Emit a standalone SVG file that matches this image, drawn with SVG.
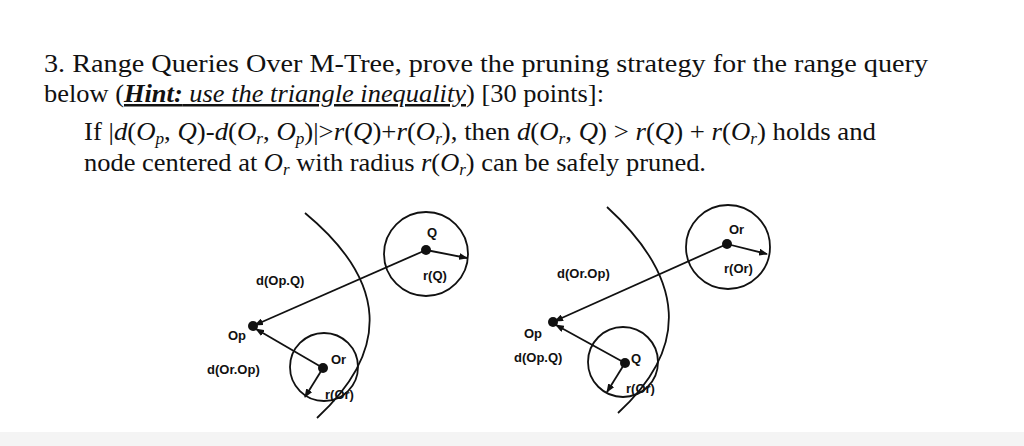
<svg xmlns="http://www.w3.org/2000/svg" width="1024" height="446" viewBox="0 0 1024 446">
<style>
.t{font-family:"Liberation Serif",serif;font-size:25px;fill:#111}
.i{font-style:italic}
.l{font-family:"Liberation Sans",sans-serif;font-size:13px;font-weight:bold;fill:#111}
.c{fill:none;stroke:#111;stroke-width:1.8}
.a{stroke:#111;stroke-width:1.8;fill:none;marker-end:url(#ah)}
.sub{font-size:16px}
</style>
<defs><marker id="ah" markerWidth="9" markerHeight="7" refX="8" refY="3.5" orient="auto" markerUnits="userSpaceOnUse"><path d="M0,0L9,3.5L0,7z" fill="#111"/></marker></defs>
<rect width="1024" height="446" fill="#fff"/>
<rect y="432" width="1024" height="14" fill="#f4f4f4"/>
<g id="text">
<text class="t" x="44" y="72" textLength="884" lengthAdjust="spacingAndGlyphs">3. Range Queries Over M-Tree, prove the pruning strategy for the range query</text>
<text class="t" x="44" y="102" textLength="560" lengthAdjust="spacingAndGlyphs">below (<tspan class="i" font-weight="bold" text-decoration="underline">Hint:</tspan><tspan class="i" text-decoration="underline"> use the triangle inequality</tspan>) [30 points]:</text>
<text class="t" x="84" y="140" textLength="792" lengthAdjust="spacingAndGlyphs">If |<tspan class="i">d</tspan>(<tspan class="i">O</tspan><tspan class="i sub" dy="4">p</tspan><tspan dy="-4">, </tspan><tspan class="i">Q</tspan>)-<tspan class="i">d</tspan>(<tspan class="i">O</tspan><tspan class="i sub" dy="4">r</tspan><tspan dy="-4">, </tspan><tspan class="i">O</tspan><tspan class="i sub" dy="4">p</tspan><tspan dy="-4">)|&gt;</tspan><tspan class="i">r</tspan>(<tspan class="i">Q</tspan>)+<tspan class="i">r</tspan>(<tspan class="i">O</tspan><tspan class="i sub" dy="4">r</tspan><tspan dy="-4">), then </tspan><tspan class="i">d</tspan>(<tspan class="i">O</tspan><tspan class="i sub" dy="4">r</tspan><tspan dy="-4">, </tspan><tspan class="i">Q</tspan>) &gt; <tspan class="i">r</tspan>(<tspan class="i">Q</tspan>) + <tspan class="i">r</tspan>(<tspan class="i">O</tspan><tspan class="i sub" dy="4">r</tspan><tspan dy="-4">) holds and</tspan></text>
<text class="t" x="84" y="171" textLength="622" lengthAdjust="spacingAndGlyphs">node centered at <tspan class="i">O</tspan><tspan class="i sub" dy="4">r</tspan><tspan dy="-4"> with radius </tspan><tspan class="i">r</tspan>(<tspan class="i">O</tspan><tspan class="i sub" dy="4">r</tspan><tspan dy="-4">) can be safely pruned.</tspan></text>
</g>
<g id="left">
<path class="c" d="M305,213 Q428,315 317,418"/>
<circle class="c" cx="426" cy="254" r="42"/>
<circle class="c" cx="324" cy="367" r="34"/>
<circle cx="426" cy="250" r="5" fill="#111"/>
<circle cx="253" cy="326" r="5" fill="#111"/>
<circle cx="323" cy="368" r="5" fill="#111"/>
<text class="l" x="427" y="237">Q</text>
<text class="l" x="423" y="280">r(Q)</text>
<text class="l" x="256" y="285">d(Op.Q)</text>
<text class="l" x="228" y="340">Op</text>
<text class="l" x="207" y="374">d(Or.Op)</text>
<text class="l" x="331" y="364">Or</text>
<text class="l" x="325" y="399">r(Or)</text>
</g>
<g id="right">
<path class="c" d="M607,207 Q725,315 618,413"/>
<circle class="c" cx="728" cy="247" r="42"/>
<circle class="c" cx="623" cy="362" r="35"/>
<circle cx="727" cy="244" r="5" fill="#111"/>
<circle cx="553" cy="322" r="5" fill="#111"/>
<circle cx="625" cy="363" r="5" fill="#111"/>
<text class="l" x="729" y="234">Or</text>
<text class="l" x="724" y="273">r(Or)</text>
<text class="l" x="557" y="278">d(Or.Op)</text>
<text class="l" x="524" y="338">Op</text>
<text class="l" x="514" y="362">d(Op.Q)</text>
<text class="l" x="631" y="363">Q</text>
<text class="l" x="626" y="393">r(Or)</text>
</g>
<g id="connectors">
<path class="a" d="M426,250L255,325"/>
<path class="a" d="M323,368L256,329"/>
<path class="a" d="M426,250L467,258"/>
<path class="a" d="M323,368L305,397"/>
<path class="a" d="M727,244L555,321"/>
<path class="a" d="M625,363L556,325"/>
<path class="a" d="M727,244L767,254"/>
<path class="a" d="M625,363L607,392"/>
</g>
</svg>
